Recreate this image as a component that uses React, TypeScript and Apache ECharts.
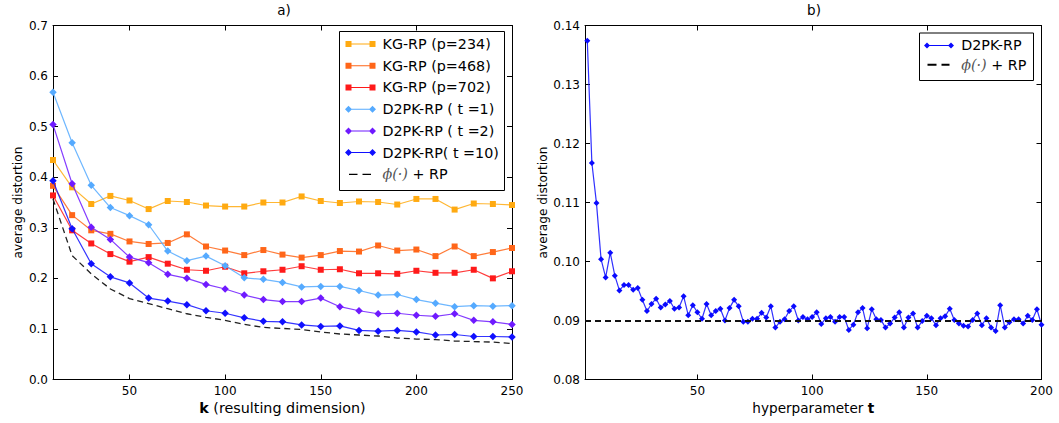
import React, { useEffect, useRef } from "react";
import * as echarts from "echarts";

const FONT = "DejaVu Sans";

// ---------- Panel a) ----------
const kValues = [10, 20, 30, 40, 50, 60, 70, 80, 90, 100, 110, 120, 130, 140, 150, 160, 170, 180, 190, 200, 210, 220, 230, 240, 250];
const kgP234 = [0.434, 0.380, 0.347, 0.363, 0.354, 0.337, 0.353, 0.351, 0.344, 0.342, 0.342, 0.350, 0.350, 0.362, 0.353, 0.349, 0.352, 0.351, 0.346, 0.357, 0.357, 0.336, 0.348, 0.347, 0.345];
const kgP468 = [0.383, 0.325, 0.295, 0.288, 0.273, 0.268, 0.270, 0.287, 0.263, 0.255, 0.246, 0.256, 0.247, 0.241, 0.246, 0.254, 0.253, 0.265, 0.255, 0.257, 0.244, 0.263, 0.244, 0.252, 0.260];
const kgP702 = [0.364, 0.295, 0.269, 0.248, 0.233, 0.242, 0.229, 0.217, 0.215, 0.223, 0.210, 0.214, 0.217, 0.224, 0.217, 0.218, 0.210, 0.210, 0.209, 0.215, 0.211, 0.211, 0.217, 0.200, 0.214];
const d2pkT1 = [0.568, 0.468, 0.384, 0.340, 0.324, 0.306, 0.254, 0.235, 0.244, 0.225, 0.201, 0.198, 0.192, 0.183, 0.184, 0.184, 0.176, 0.167, 0.168, 0.158, 0.151, 0.144, 0.146, 0.145, 0.146];
const d2pkT2 = [0.504, 0.387, 0.301, 0.277, 0.242, 0.231, 0.208, 0.200, 0.188, 0.179, 0.167, 0.158, 0.154, 0.154, 0.161, 0.144, 0.136, 0.130, 0.131, 0.127, 0.125, 0.130, 0.117, 0.114, 0.109];
const d2pkT10 = [0.393, 0.298, 0.229, 0.203, 0.191, 0.161, 0.155, 0.148, 0.136, 0.131, 0.122, 0.115, 0.114, 0.108, 0.105, 0.106, 0.097, 0.0955, 0.097, 0.094, 0.088, 0.089, 0.085, 0.085, 0.084];
const phiRP = [0.357, 0.245, 0.209, 0.179, 0.160, 0.150, 0.140, 0.130, 0.123, 0.117, 0.109, 0.103, 0.101, 0.099, 0.094, 0.090, 0.088, 0.086, 0.082, 0.080, 0.079, 0.076, 0.075, 0.074, 0.071];
const xTicksA = [50, 100, 150, 200, 250];
const yTicksA = [0, 0.1, 0.2, 0.3, 0.4, 0.5, 0.6, 0.7];

// ---------- Panel b) ----------
const tValues = [2, 4, 6, 8, 10, 12, 14, 16, 18, 20, 22, 24, 26, 28, 30, 32, 34, 36, 38, 40, 42, 44, 46, 48, 50, 52, 54, 56, 58, 60, 62, 64, 66, 68, 70, 72, 74, 76, 78, 80, 82, 84, 86, 88, 90, 92, 94, 96, 98, 100, 102, 104, 106, 108, 110, 112, 114, 116, 118, 120, 122, 124, 126, 128, 130, 132, 134, 136, 138, 140, 142, 144, 146, 148, 150, 152, 154, 156, 158, 160, 162, 164, 166, 168, 170, 172, 174, 176, 178, 180, 182, 184, 186, 188, 190, 192, 194, 196, 198, 200];
const d2pkByT = [
  0.1374, 0.1167, 0.1099, 0.1004, 0.0973, 0.1015, 0.0976, 0.0951, 0.0960, 0.0960,
  0.0952, 0.0955, 0.0935, 0.0916, 0.0928, 0.0937, 0.0922, 0.0927, 0.0933, 0.0920,
  0.0922, 0.0941, 0.0909, 0.0926, 0.0914, 0.0903, 0.0928, 0.0909, 0.0916, 0.0920,
  0.0900, 0.0921, 0.0935, 0.0924, 0.0898, 0.0898, 0.0903, 0.0903, 0.0913, 0.0905,
  0.0924, 0.0888, 0.0898, 0.0902, 0.0916, 0.0924, 0.0900, 0.0906, 0.0902, 0.0906,
  0.0914, 0.0894, 0.0904, 0.0906, 0.0898, 0.0906, 0.0906, 0.0884, 0.0893, 0.0914,
  0.0921, 0.0887, 0.0919, 0.0902, 0.0901, 0.0888, 0.0895, 0.0905, 0.0914, 0.0888,
  0.0905, 0.0912, 0.0888, 0.0899, 0.0908, 0.0904, 0.0892, 0.0904, 0.0907, 0.0920,
  0.0901, 0.0895, 0.0891, 0.0890, 0.0901, 0.0912, 0.0892, 0.0904, 0.0888, 0.0882,
  0.0926, 0.0888, 0.0897, 0.0902, 0.0902, 0.0895, 0.0908, 0.0901, 0.0919, 0.0893,
];
const phiBaselineB = 0.09;
const xTicksB = [50, 100, 150, 200];
const yTicksB = [0.08, 0.09, 0.1, 0.11, 0.12, 0.13, 0.14];

const NAMES_A = [
  "KG-RP (p=234)",
  "KG-RP (p=468)",
  "KG-RP (p=702)",
  "D2PK-RP ( t =1)",
  "D2PK-RP ( t =2)",
  "D2PK-RP( t =10)",
];
const PHI_A = "ϕ(·) + RP ";
const D2PK_B = "D2PK-RP";
const PHI_B = "ϕ(·) + RP";

const COLORS_A = ["#ffaa11", "#ff6619", "#ff1a1a", "#55aaff", "#6f1aff", "#1010ff"];
const SERIES_A = [kgP234, kgP468, kgP702, d2pkT1, d2pkT2, d2pkT10];

// legend icons (31 x 7 boxes)
const ICON_SQ = "path://M0,0 M31,7 M0.5,0.5h6v6h-6z M6.5,3h18v1h-18z M24.5,0.5h6v6h-6z";
const ICON_DM = "path://M3.5,0L7,3.5L3.5,7L0,3.5z M5,3h21v1h-21z M27.5,0L31,3.5L27.5,7L24,3.5z";
const ICON_DM_S = "path://M0,0 M31,7 M3.5,0.5L6.5,3.5L3.5,6.5L0.5,3.5z M5,3h21v1h-21z M27.5,0.5L30.5,3.5L27.5,6.5L24.5,3.5z";
const ICON_DASH = "path://M0,0 M31,7 M4,2.85h8.5v1.3h-8.5z M17.5,2.85h8.5v1.3h-8.5z";
const ICON_DASH_B = "path://M0,0 M31,7 M4,2.5h9v2h-9z M18,2.5h8v2h-8z";

const GRID_A = { left: 53, top: 25.5, width: 459, height: 354 };
const GRID_B = { left: 585, top: 25.5, width: 456.5, height: 354 };

function mirrorAxisLine() {
  return { show: true, onZero: false, lineStyle: { color: "#000", width: 1 } };
}

function buildOption() {
  const tick = { show: true, inside: true, length: 5, lineStyle: { color: "#000", width: 1 } };
  const labelBase = { fontFamily: FONT, fontSize: 12, color: "#000" };

  const xAxis: any[] = [
    {
      type: "value", gridIndex: 0, position: "bottom", min: 10, max: 250, splitNumber: 5,
      axisLine: mirrorAxisLine(), axisTick: tick, splitLine: { show: false },
      axisLabel: { ...labelBase, margin: 5, formatter: (v: number) => (xTicksA.includes(v) ? String(v) : "") },
      name: "{b|k} (resulting dimension)", nameLocation: "middle", nameGap: 21,
      nameTextStyle: { fontFamily: FONT, fontSize: 14.3, color: "#000", rich: { b: { fontFamily: FONT, fontSize: 14.3, fontWeight: "bold", color: "#000" } } },
    },
    {
      type: "value", gridIndex: 0, position: "top", min: 10, max: 250, splitNumber: 5,
      axisLine: mirrorAxisLine(), axisTick: tick, axisLabel: { show: false }, splitLine: { show: false },
    },
    {
      type: "value", gridIndex: 1, position: "bottom", min: 1, max: 200, splitNumber: 4,
      axisLine: mirrorAxisLine(), axisTick: tick, splitLine: { show: false },
      axisLabel: { ...labelBase, margin: 5, formatter: (v: number) => (xTicksB.includes(v) ? String(v) : "") },
      name: "hyperparameter {b|t}", nameLocation: "middle", nameGap: 21,
      nameTextStyle: { fontFamily: FONT, fontSize: 13.6, color: "#000", rich: { b: { fontFamily: FONT, fontSize: 13.6, fontWeight: "bold", color: "#000" } } },
    },
    {
      type: "value", gridIndex: 1, position: "top", min: 1, max: 200, splitNumber: 4,
      axisLine: mirrorAxisLine(), axisTick: tick, axisLabel: { show: false }, splitLine: { show: false },
    },
  ];

  const yAxis: any[] = [
    {
      type: "value", gridIndex: 0, position: "left", min: 0, max: 0.7, interval: 0.1,
      axisLine: mirrorAxisLine(), axisTick: tick, splitLine: { show: false },
      axisLabel: {
        ...labelBase, margin: 5,
        formatter: (v: number) => {
          const hit = yTicksA.find((t) => Math.abs(t - v) < 1e-9);
          return hit === undefined ? "" : hit.toFixed(1);
        },
      },
      name: "average distortion", nameLocation: "middle", nameGap: 29,
      nameTextStyle: { fontFamily: FONT, fontSize: 12.2, color: "#000" },
    },
    {
      type: "value", gridIndex: 0, position: "right", min: 0, max: 0.7, interval: 0.1,
      axisLine: mirrorAxisLine(), axisTick: tick, axisLabel: { show: false }, splitLine: { show: false },
    },
    {
      type: "value", gridIndex: 1, position: "left", min: 0.08, max: 0.14, interval: 0.01,
      axisLine: mirrorAxisLine(), axisTick: tick, splitLine: { show: false },
      axisLabel: {
        ...labelBase, margin: 5,
        formatter: (v: number) => {
          const hit = yTicksB.find((t) => Math.abs(t - v) < 1e-9);
          return hit === undefined ? "" : hit.toFixed(2);
        },
      },
      name: "average distortion", nameLocation: "middle", nameGap: 36,
      nameTextStyle: { fontFamily: FONT, fontSize: 12.2, color: "#000" },
    },
    {
      type: "value", gridIndex: 1, position: "right", min: 0.08, max: 0.14, interval: 0.01,
      axisLine: mirrorAxisLine(), axisTick: tick, axisLabel: { show: false }, splitLine: { show: false },
    },
  ];

  const series: any[] = SERIES_A.map((vals, i) => ({
    type: "line",
    name: NAMES_A[i],
    xAxisIndex: 0,
    yAxisIndex: 0,
    data: kValues.map((k, j) => [k, vals[j]]),
    symbol: i < 3 ? "rect" : "diamond",
    symbolSize: i < 3 ? 6 : 7.5,
    showSymbol: true,
    itemStyle: { color: COLORS_A[i] },
    lineStyle: { color: COLORS_A[i], width: 1.2, opacity: 0.85 },
    emphasis: { disabled: true },
    z: 2 + i * 0.01,
  }));

  series.push({
    type: "line",
    name: PHI_A,
    xAxisIndex: 0,
    yAxisIndex: 0,
    data: kValues.map((k, j) => [k, phiRP[j]]),
    symbol: "none",
    itemStyle: { color: "#000" },
    lineStyle: { color: "#222", width: 1.3, type: [6, 4] },
    emphasis: { disabled: true },
    z: 2.1,
  });

  series.push({
    type: "line",
    name: D2PK_B,
    xAxisIndex: 2,
    yAxisIndex: 2,
    data: tValues.map((t, j) => [t, d2pkByT[j]]),
    symbol: "diamond",
    symbolSize: 6,
    itemStyle: { color: "#0a0aff" },
    lineStyle: { color: "#1a1aff", width: 1.2, opacity: 0.9 },
    emphasis: { disabled: true },
  });

  series.push({
    type: "line",
    name: PHI_B,
    xAxisIndex: 2,
    yAxisIndex: 2,
    data: [],
    itemStyle: { color: "#000" },
    lineStyle: { color: "#000", width: 1.8, type: [6, 4] },
    markLine: {
      silent: true,
      symbol: ["none", "none"],
      label: { show: false },
      lineStyle: { color: "#111", width: 1.8, type: [6, 4] },
      emphasis: { disabled: true },
      data: [{ yAxis: phiBaselineB }],
    },
  });

  const legendText = {
    fontFamily: FONT,
    fontSize: 14.3,
    lineHeight: 16,
    color: "#000",
    padding: [0, 0, 0, 1.5],
    rich: { m: { fontFamily: "DejaVu Serif", fontStyle: "italic", fontSize: 14.3, lineHeight: 16, color: "#555" } },
  };

  const legendFormatter = (name: string) =>
    name.startsWith("ϕ(·)") ? "{m|ϕ(·)} + RP" : name;

  const legend: any[] = [
    {
      show: true,
      orient: "vertical",
      left: 345,
      top: 36,
      padding: 0,
      itemGap: 5.72,
      itemWidth: 31,
      itemHeight: 7,
      selectedMode: false,
      itemStyle: { borderWidth: 0 },
      textStyle: legendText,
      formatter: legendFormatter,
      data: [
        { name: NAMES_A[0], icon: ICON_SQ },
        { name: NAMES_A[1], icon: ICON_SQ },
        { name: NAMES_A[2], icon: ICON_SQ },
        { name: NAMES_A[3], icon: ICON_DM },
        { name: NAMES_A[4], icon: ICON_DM },
        { name: NAMES_A[5], icon: ICON_DM },
        { name: PHI_A, icon: ICON_DASH },
      ],
      z: 10,
    },
    {
      show: true,
      orient: "vertical",
      left: 923.5,
      top: 37.4,
      padding: 0,
      itemGap: 3.3,
      itemWidth: 31,
      itemHeight: 7,
      selectedMode: false,
      itemStyle: { borderWidth: 0 },
      textStyle: { ...legendText, padding: [0, 0, 0, 1.7] },
      formatter: legendFormatter,
      data: [
        { name: D2PK_B, icon: ICON_DM_S },
        { name: PHI_B, icon: ICON_DASH_B },
      ],
      z: 10,
    },
  ];

  const graphic: any[] = [
    {
      type: "text", left: undefined, x: 284, y: 10, z: 10,
      style: { text: "a)", fontFamily: FONT, fontSize: 13.5, fill: "#000", textAlign: "center", textVerticalAlign: "middle" },
    },
    {
      type: "text", x: 814, y: 10, z: 10,
      style: { text: "b)", fontFamily: FONT, fontSize: 13.5, fill: "#000", textAlign: "center", textVerticalAlign: "middle" },
    },
    {
      type: "rect", x: 339.5, y: 31.5, z: 5,
      shape: { x: 0, y: 0, width: 165, height: 159 },
      style: { fill: "#fff", stroke: "#000", lineWidth: 1 },
    },
    {
      type: "rect", x: 919.5, y: 33, z: 5,
      shape: { x: 0, y: 0, width: 114, height: 47.5 },
      style: { fill: "#fff", stroke: "#000", lineWidth: 1 },
    },
  ];

  return {
    animation: false,
    backgroundColor: "#fff",
    textStyle: { fontFamily: FONT },
    grid: [
      { ...GRID_A, containLabel: false, outerBoundsMode: "none" },
      { ...GRID_B, containLabel: false, outerBoundsMode: "none" },
    ],
    xAxis,
    yAxis,
    legend,
    graphic,
    series,
    tooltip: { show: false },
  };
}

export default function App() {
  const ref = useRef<HTMLDivElement | null>(null);
  useEffect(() => {
    if (!ref.current) return;
    const chart = echarts.init(ref.current, undefined, { renderer: "svg" });
    chart.setOption(buildOption() as any);
    return () => {
      chart.dispose();
    };
  }, []);
  return (
    <div
      ref={ref}
      style={{ position: "absolute", left: 0, top: 0, width: 1059, height: 423, background: "#fff" }}
    />
  );
}
